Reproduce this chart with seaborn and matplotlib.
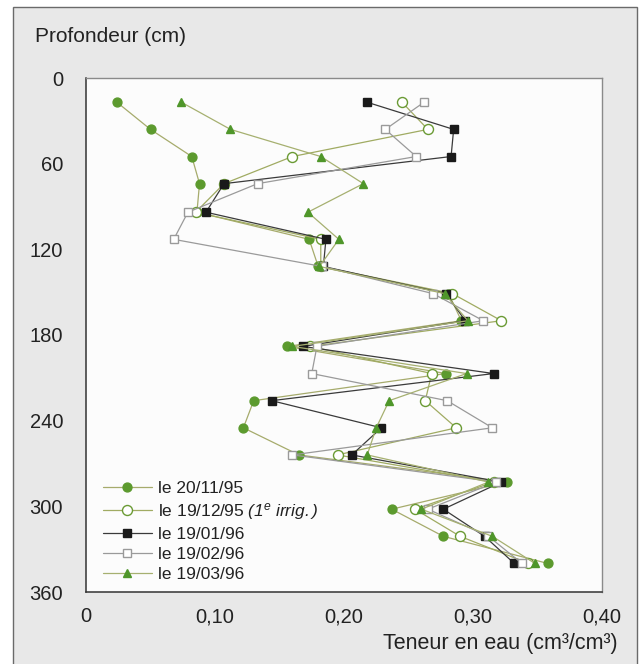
import matplotlib
matplotlib.use("Agg")
import matplotlib.pyplot as plt
import matplotlib.patches as mpatches
from matplotlib.ticker import MultipleLocator
import seaborn as sns
import pandas as pd

# profondeurs (cm) et teneurs en eau (cm3/cm3)
profondeur = [17, 36, 55, 74, 94, 113, 132, 151, 170, 188, 207, 226, 245, 264, 283, 302, 321, 340]

teneur_201195 = [0.024, 0.050, 0.082, 0.088, 0.086, 0.173, 0.180, 0.281, 0.291, 0.156,
                 0.279, 0.130, 0.122, 0.165, 0.326, 0.237, 0.277, 0.358]
teneur_191295 = [0.245, 0.265, 0.160, 0.107, 0.085, 0.182, 0.182, 0.284, 0.322, 0.174,
                 0.268, 0.263, 0.287, 0.195, 0.316, 0.255, 0.290, 0.343]
teneur_190196 = [0.218, 0.285, 0.283, 0.107, 0.093, 0.186, 0.184, 0.279, 0.294, 0.168,
                 0.316, 0.144, 0.229, 0.206, 0.322, 0.277, 0.309, 0.332]
teneur_190296 = [0.262, 0.232, 0.256, 0.133, 0.079, 0.068, 0.183, 0.269, 0.308, 0.179,
                 0.175, 0.280, 0.315, 0.160, 0.318, 0.265, 0.312, 0.338]
teneur_190396 = [0.074, 0.112, 0.182, 0.215, 0.172, 0.196, 0.181, 0.278, 0.296, 0.160,
                 0.295, 0.235, 0.225, 0.218, 0.312, 0.260, 0.315, 0.348]

etiquettes = ["le 20/11/95",
              r"le 19/12/95 $\it{(1^{e}\ irrig.)}$",
              "le 19/01/96",
              "le 19/02/96",
              "le 19/03/96"]

x_ticks = [0, 0.10, 0.20, 0.30, 0.40]
x_labels = ["0", "0,10", "0,20", "0,30", "0,40"]
y_ticks = [0, 60, 120, 180, 240, 300, 360]
y_labels = ["0", "60", "120", "180", "240", "300", "360"]

sns.set_style("white")
plt.rcParams["font.family"] = ["Liberation Sans", "DejaVu Sans"]
plt.rcParams["mathtext.fontset"] = "custom"
plt.rcParams["mathtext.rm"] = "Liberation Sans:italic"
plt.rcParams["mathtext.it"] = "Liberation Sans:italic"

series = [teneur_201195, teneur_191295, teneur_190196, teneur_190296, teneur_190396]
df = pd.concat([pd.DataFrame({"profondeur": profondeur, "teneur": s, "date": lab})
                for s, lab in zip(series, etiquettes)], ignore_index=True)

# style de chaque série : (couleur ligne, marqueur, taille, remplissage, bord)
styles = [
    ("#a6ab6c", "o", 6.4, "#5c9a2e", "#5c9a2e"),
    ("#a0ab62", "o", 7.2, "white", "#6a9a34"),
    ("#3a3a3a", "s", 5.4, "#1a1a1a", "#1a1a1a"),
    ("#9a9a9a", "s", 5.8, "white", "#9a9a9a"),
    ("#a6b070", "^", 6.0, "#4f962a", "#4f962a"),
]

fig = plt.figure(figsize=(6.41, 6.64), dpi=100)
fig.patch.set_facecolor("white")
cadre = mpatches.Rectangle((13 / 641, -0.05), 624 / 641, 1.05 - 7 / 664,
                           transform=fig.transFigure, facecolor="#e8e8e8",
                           edgecolor="#6a6a6a", lw=1.0, zorder=-10)
fig.add_artist(cadre)
ax = fig.add_axes([86 / 641, 1 - 592 / 664, 516 / 641, 514 / 664])
ax.set_zorder(1)
ax.set_facecolor("#fcfcfc")

for lab, (lc, mk, ms, fc, ec) in zip(etiquettes, styles):
    sub = df[df["date"] == lab]
    sns.lineplot(data=sub, x="teneur", y="profondeur", sort=False, estimator=None,
                 ax=ax, color=lc, lw=0.9, marker=mk, markersize=ms,
                 markerfacecolor=fc, markeredgecolor=ec, markeredgewidth=1.0,
                 label=lab)

ax.set_xlim(0, 0.40)
ax.set_ylim(360, 0)
ax.set_xticks(x_ticks)
ax.set_xticklabels(x_labels)
ax.set_yticks(y_ticks)
ax.set_yticklabels(y_labels)
ax.minorticks_on()
ax.xaxis.set_minor_locator(MultipleLocator(0.02))
ax.yaxis.set_minor_locator(MultipleLocator(20))
ax.tick_params(axis="x", which="major", direction="in", length=8, width=0.9,
               color="#333333", labelsize=14.5, pad=11, labelcolor="#222222")
ax.tick_params(axis="x", which="minor", direction="in", length=4.5, width=0.9, color="#333333")
ax.tick_params(axis="y", which="major", direction="out", length=10, width=0.9,
               color="#333333", labelsize=14.5, pad=6.5, labelcolor="#222222")
ax.tick_params(axis="y", which="minor", direction="out", length=5, width=0.9, color="#333333")

for side in ["left", "bottom"]:
    ax.spines[side].set_color("#333333")
    ax.spines[side].set_linewidth(1.1)
for side in ["top", "right"]:
    ax.spines[side].set_color("#8a8a8a")
    ax.spines[side].set_linewidth(1.0)

ax.set_ylabel("Profondeur (cm)", rotation=0, fontsize=15, color="#222222",
              ha="left", va="center")
ax.yaxis.set_label_coords((35 - 86) / 516, (592 - 37) / 514)
ax.set_xlabel("Teneur en eau (cm³/cm³)", fontsize=15.5, color="#222222",
              ha="right", va="center")
ax.xaxis.set_label_coords((618 - 86) / 516, (592 - 643) / 514)

ax.legend(loc="lower left", bbox_to_anchor=(0.033, 0.02), frameon=False,
          fontsize=12.5, handlelength=2.8, handletextpad=0.35, labelspacing=0.28,
          borderaxespad=0, borderpad=0, labelcolor="#222222")

fig.savefig("out.png", dpi=100, facecolor=fig.get_facecolor())
